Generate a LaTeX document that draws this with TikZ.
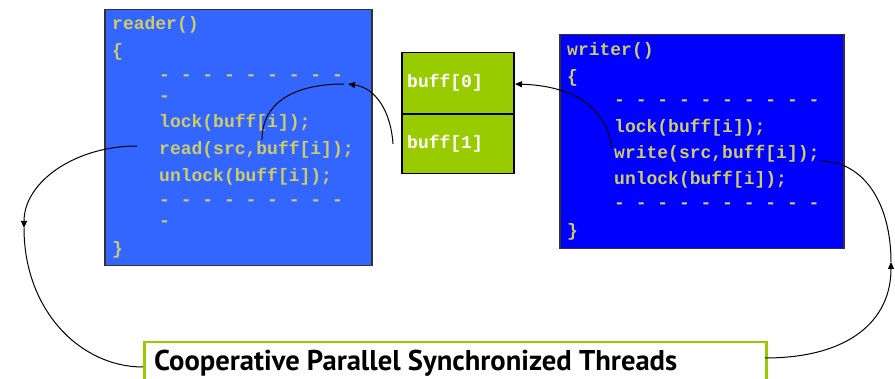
\documentclass[tikz,border=0pt]{standalone}
\usepackage{fontspec}
\setmonofont{Liberation Mono}
\newfontfamily\titlefont{PT Sans}
\usetikzlibrary{arrows.meta}
\definecolor{codeyellow}{RGB}{206,204,100}
\definecolor{readerblue}{RGB}{51,102,255}
\definecolor{writerblue}{RGB}{0,0,255}
\definecolor{buffgreen}{RGB}{153,204,0}
\definecolor{boxedge}{RGB}{50,50,50}
\tikzset{
  codebox/.style={draw=boxedge, line width=1.5pt, anchor=north west, inner sep=0pt},
  codeline/.style={anchor=base west, inner sep=0pt, text=codeyellow, font=\ttfamily\bfseries\fontsize{18}{18}\selectfont},
  buffline/.style={anchor=base west, inner sep=0pt, text=white, font=\ttfamily\bfseries\fontsize{18}{18}\selectfont},
  conn/.style={black, line width=1pt},
  tip/.style={-{Triangle[length=7pt,width=6pt]}}
}
\begin{document}
\begin{tikzpicture}[x=1pt,y=-1pt]
\useasboundingbox (0,0) rectangle (895,379);
% reader box
\node[codebox, fill=readerblue, minimum width=267pt, minimum height=256pt] (reader) at (104,9) {};
\node[codeline] (r1) at (112,30) {reader()};
\node[codeline] (r2) at (112,57) {\{};
\node[codeline] (r3) at (159,81) {- - - - - - - - -};
\node[codeline] (r4) at (159,102) {-};
\node[codeline] (r5) at (159,128) {lock(buff[i]);};
\node[codeline] (r6) at (159,155) {read(src,buff[i]);};
\node[codeline] (r7) at (159,182) {unlock(buff[i]);};
\node[codeline] (r8) at (159,206) {- - - - - - - - -};
\node[codeline] (r9) at (159,227) {-};
\node[codeline] (r10) at (112,255) {\}};
% buffer
\node[draw=black, line width=1.5pt, fill=buffgreen, anchor=north west, minimum width=112pt, minimum height=61pt, inner sep=0pt] (b0) at (401,52) {};
\node[draw=black, line width=1.5pt, fill=buffgreen, anchor=north west, minimum width=112pt, minimum height=60pt, inner sep=0pt] (b1) at (401,113) {};
\draw[black, line width=2pt] (b0.south west) -- (b0.south east);
\node[buffline] (t0) at (407,88) {buff[0]};
\node[buffline] (t1) at (407,149) {buff[1]};
% writer box
\node[codebox, fill=writerblue, minimum width=284pt, minimum height=214pt] (writer) at (559,34) {};
\node[codeline] (w1) at (567,56) {writer()};
\node[codeline] (w2) at (567,83) {\{};
\node[codeline] (w3) at (614,106) {- - - - - - - - - -};
\node[codeline] (w4) at (614,133) {lock(buff[i]);};
\node[codeline] (w5) at (614,159) {write(src,buff[i]);};
\node[codeline] (w6) at (614,185) {unlock(buff[i]);};
\node[codeline] (w7) at (614,209) {- - - - - - - - - -};
\node[codeline] (w8) at (567,237) {\}};
% title
\node[draw=buffgreen, line width=2.5pt, fill=white, anchor=north west, minimum width=622pt, minimum height=50pt, inner sep=0pt] (title) at (143,341) {};
\node[anchor=base west, inner sep=0pt] (titletext) at (154,371) {\resizebox{523pt}{!}{\titlefont\bfseries\fontsize{28}{28}\selectfont Cooperative Parallel Synchronized Threads}};
% connector points
\coordinate (readsrc) at (262,140);
\coordinate (readend) at (344,84);
\coordinate (readtip) at (348,84);
\coordinate (buffsrc) at (393,144);
\coordinate (writesrc) at (612,148);
\coordinate (bufftip) at (515,84);
\coordinate (leftsrc) at (137,146);
\coordinate (lefttip) at (24,228);
\coordinate (titleleft) at (143,367);
\coordinate (titleright) at (765,358);
\coordinate (righttip) at (891,262);
\coordinate (writeend) at (820,161);
% connectors
\draw[conn] (readsrc) .. controls (262,102) and (295,84) .. (readend);
\draw[conn, tip] (buffsrc) .. controls (391,112) and (376,88) .. (readtip);
\draw[conn, tip] (writesrc) .. controls (606,108) and (575,86) .. (bufftip);
\draw[conn, tip] (leftsrc) .. controls (75,146) and (24,182) .. (lefttip);
\draw[conn] (lefttip) .. controls (24,310) and (80,367) .. (titleleft);
\draw[conn, tip] (titleright) .. controls (850,358) and (891,320) .. (righttip);
\draw[conn] (righttip) .. controls (891,205) and (865,161) .. (writeend);
\end{tikzpicture}
\end{document}
